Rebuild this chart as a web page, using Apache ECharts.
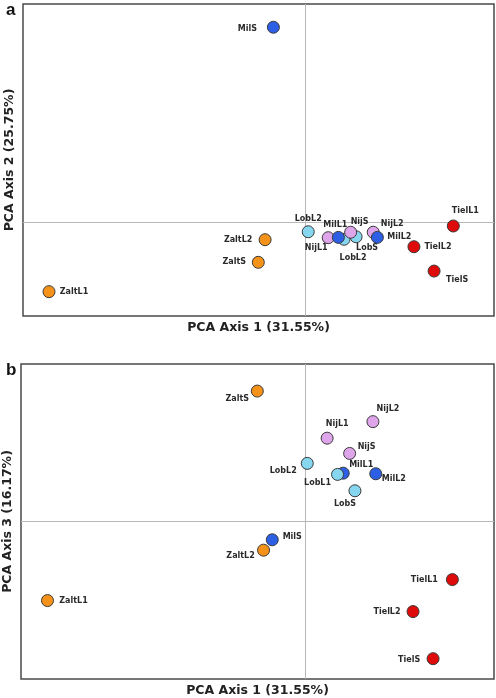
<!DOCTYPE html>
<html>
<head>
<meta charset="utf-8">
<script src="https://cdn.jsdelivr.net/npm/echarts@6/dist/echarts.min.js"></script>
<style>
html,body{margin:0;padding:0;background:#fff;}
#chart{width:496px;height:698px;}
</style>
</head>
<body>
<div id="chart"></div>
<script>
// ---- Data ----
const samples = ['MilS','ZaltL2','ZaltS','ZaltL1','LobL2','NijL1','MilL1','LobL1','NijS','LobS','NijL2','MilL2','TielL1','TielL2','TielS'];
const groups  = ['Mil','Zalt','Zalt','Zalt','Lob','Nij','Mil','Lob','Nij','Lob','Nij','Mil','Tiel','Tiel','Tiel'];
// labels as printed in panel a (LobL1 printed as "LobL2" in the figure)
const labelsA = ['MilS','ZaltL2','ZaltS','ZaltL1','LobL2','NijL1','MilL1','LobL2','NijS','LobS','NijL2','MilL2','TielL1','TielL2','TielS'];
const labelsB = samples;
// Panel a: PCA axis 1 vs PCA axis 2
const pc1A = [-0.171,-0.215,-0.251,-1.362,0.014,0.120,0.174,0.204,0.239,0.268,0.359,0.381,0.784,0.575,0.682];
const pc2A = [1.251,-0.111,-0.256,-0.444,-0.060,-0.098,-0.096,-0.108,-0.063,-0.092,-0.063,-0.096,-0.023,-0.156,-0.312];
// Panel b: PCA axis 1 vs PCA axis 3
const pc1B = [-0.172,-0.218,-0.251,-1.360,0.013,0.118,0.203,0.173,0.237,0.265,0.360,0.375,0.780,0.572,0.678];
const pc3B = [-0.116,-0.182,0.828,-0.502,0.369,0.529,0.307,0.299,0.432,0.195,0.634,0.303,-0.369,-0.572,-0.871];
const titleX = 'PCA Axis 1 (31.55%)';
const titleYA = 'PCA Axis 2 (25.75%)';
const titleYB = 'PCA Axis 3 (16.17%)';

// ---- Styles ----
const colors = {Mil:'#2c5fe4', Zalt:'#f5921a', Lob:'#86d6ef', Nij:'#dfa5ea', Tiel:'#df0a0a'};
const drawOrderA = [4,7,9,5,8,10,6,11,0,1,2,3,12,13,14];
const drawOrderB = [6,11,0,4,7,9,5,8,10,1,2,3,12,13,14];
// label centre offsets (px) from the marker, keyed by sample index
const offA = {0:[-26,2],1:[-27,0],2:[-24,0],3:[25,0],4:[0,-13],5:[-12,10],6:[-3,-12],7:[9,19],8:[9,-10],9:[11,11],10:[19,-8],11:[22,0],12:[12,-15],13:[24,0],14:[23,9]};
const offB = {0:[20,-3],1:[-23,6],2:[-20,8],3:[26,0],4:[-24,8],5:[10,-14],6:[18,-8],7:[-20,9],8:[17,-7],9:[-10,13],10:[15,-13],11:[18,5],12:[-28,0],13:[-26,0],14:[-24,1]};

function buildData(xs, ys, labels, order){
  return order.map(i => ({
    value:[xs[i], ys[i]],
    name: labels[i],
    itemStyle:{color: colors[groups[i]]}
  }));
}
function layoutFn(order, offs){
  return function(p){
    const o = offs[order[p.dataIndex]] || [0,0];
    return {dx:o[0], dy:o[1], hideOverlap:false};
  };
}

const font = 'DejaVu Sans';
const labelStyle = {show:true, position:'inside', formatter:'{b}', color:'#2a2a2a', fontFamily:font, fontWeight:'bold', fontSize:8};
const zeroLine = {silent:true, symbol:'none', label:{show:false}, lineStyle:{color:'#b8b8b8', width:1, type:'solid'}, data:[{xAxis:0},{yAxis:0}], animation:false};

function xAx(idx, name){
  return {gridIndex:idx, type:'value', min:-1.5, max:1.0, name:name, nameLocation:'middle', nameGap:5,
    nameTextStyle:{fontFamily:font, fontWeight:'bold', fontSize:12.5, color:'#222', verticalAlign:'top'},
    axisLine:{show:false}, axisTick:{show:false}, axisLabel:{show:false}, splitLine:{show:false}};
}
function yAx(idx, name, min, max){
  return {gridIndex:idx, type:'value', min:min, max:max, name:name, nameLocation:'middle', nameGap:7,
    nameTextStyle:{fontFamily:font, fontWeight:'bold', fontSize:12.5, color:'#222'},
    axisLine:{show:false}, axisTick:{show:false}, axisLabel:{show:false}, splitLine:{show:false}};
}

const chart = echarts.init(document.getElementById('chart'), null, {renderer:'canvas'});
chart.setOption({
  animation:false,
  backgroundColor:'#fff',
  title:[
    {text:'a', left:1, top:-3, textStyle:{fontFamily:'Liberation Sans', fontWeight:'bold', fontSize:17, color:'#111'}},
    {text:'b', left:1, top:357, textStyle:{fontFamily:'Liberation Sans', fontWeight:'bold', fontSize:17, color:'#111'}}
  ],
  grid:[
    {left:23, top:4, width:471, height:312, show:true, borderColor:'#4a4a4a', borderWidth:1.5, backgroundColor:'#fff', containLabel:false, outerBoundsMode:'none'},
    {left:21, top:364, width:473, height:315, show:true, borderColor:'#4a4a4a', borderWidth:1.5, backgroundColor:'#fff', containLabel:false, outerBoundsMode:'none'}
  ],
  xAxis:[xAx(0, titleX), xAx(1, titleX)],
  yAxis:[yAx(0, titleYA, -0.6, 1.4), yAx(1, titleYB, -1, 1)],
  series:[
    {type:'scatter', xAxisIndex:0, yAxisIndex:0, z:1, data:[], markLine:zeroLine},
    {type:'scatter', xAxisIndex:1, yAxisIndex:1, z:1, data:[], markLine:zeroLine},
    {type:'scatter', xAxisIndex:0, yAxisIndex:0, z:5, symbolSize:12,
     itemStyle:{borderColor:'#3a3a3a', borderWidth:1, opacity:1},
     label:labelStyle, labelLayout:layoutFn(drawOrderA, offA),
     data:buildData(pc1A, pc2A, labelsA, drawOrderA)},
    {type:'scatter', xAxisIndex:1, yAxisIndex:1, z:5, symbolSize:12,
     itemStyle:{borderColor:'#3a3a3a', borderWidth:1, opacity:1},
     label:labelStyle, labelLayout:layoutFn(drawOrderB, offB),
     data:buildData(pc1B, pc3B, labelsB, drawOrderB)}
  ]
});
</script>
</body>
</html>
